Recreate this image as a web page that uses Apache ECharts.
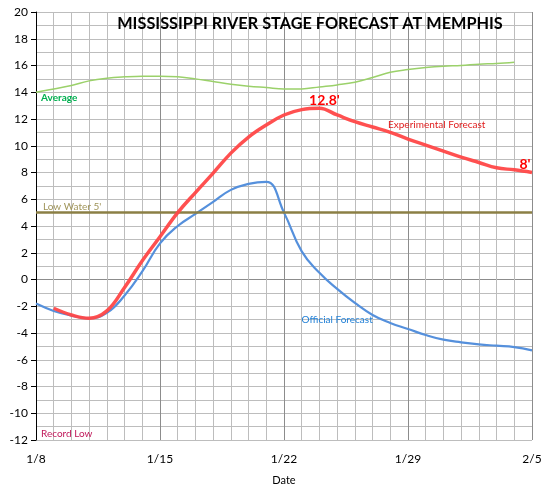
<!DOCTYPE html>
<html><head><meta charset="utf-8">
<script src="https://cdn.jsdelivr.net/npm/echarts@6/dist/echarts.min.js"></script>
<style>html,body{margin:0;padding:0;background:#fff}#c{width:545px;height:492px}</style>
</head><body><div id="c"></div>
<script>
var dates = ['1/8','1/9','1/10','1/11','1/12','1/13','1/14','1/15','1/16','1/17','1/18','1/19','1/20','1/21','1/22','1/23','1/24','1/25','1/26','1/27','1/28','1/29','1/30','1/31','2/1','2/2','2/3','2/4','2/5'];
var average = [14.0,14.25,14.5,14.85,15.05,15.15,15.2,15.2,15.15,15.0,14.8,14.6,14.45,14.35,14.25,14.25,14.4,14.55,14.75,15.1,15.5,15.7,15.85,15.95,16.0,16.1,16.15,16.25,null];
var experimental = [null,-2.15,-2.65,-2.9,-2.35,-0.6,1.4,3.2,5.0,6.5,7.95,9.45,10.65,11.55,12.3,12.7,12.8,12.3,11.8,11.4,11.0,10.5,10.05,9.6,9.15,8.75,8.35,8.2,8.0];
var official = [-1.8,-2.35,-2.7,-2.9,-2.5,-1.2,0.6,2.7,4.0,4.9,5.8,6.7,7.15,7.3,5.0,2.1,0.5,-0.7,-1.75,-2.65,-3.25,-3.7,-4.15,-4.5,-4.7,-4.85,-4.95,-5.05,-5.3];
var yTicks = {min:-12, max:20, step:2};
var lowWater = 5;
var peakLabel = "12.8'", endLabel = "8'";

var FONT = 'Lato, "Liberation Sans", sans-serif';
var vColors = dates.map(function(d,i){return i%7===0 ? '#8c8c8c' : '#bdbdbd';});
var hColors = [];
for (var v = yTicks.min; v <= yTicks.max; v += yTicks.step) hColors.push(v===0 ? '#8c8c8c' : '#bdbdbd');
var last = dates.length-1;

var chart = echarts.init(document.getElementById('c'), null, {renderer:'canvas'});
chart.setOption({
  animation:false,
  backgroundColor:'#fff',
  title:{text:'MISSISSIPPI RIVER STAGE FORECAST AT MEMPHIS', left:305, top:11, textAlign:'center',
    textStyle:{fontFamily:FONT, fontWeight:'bold', fontSize:16.3, color:'#000'}},
  grid:{left:36, right:13, top:12, bottom:52, containLabel:false, outerBoundsMode:'none'},
  xAxis:{type:'category', data:dates, boundaryGap:false,
    name:'Date', nameLocation:'middle', nameGap:35,
    nameTextStyle:{fontFamily:FONT, fontSize:11, color:'#000'},
    axisLine:{show:false}, axisTick:{show:false},
    axisLabel:{interval:6, margin:13, fontFamily:FONT, fontSize:12, color:'#000'},
    splitLine:{show:true, interval:0, lineStyle:{color:vColors, width:1}}
  },
  yAxis:{type:'value', min:yTicks.min, max:yTicks.max, interval:yTicks.step,
    name:'Stage (feet)', nameLocation:'middle', nameGap:27, nameRotate:90,
    nameTextStyle:{fontFamily:FONT, fontSize:11, color:'#000'},
    axisLine:{show:true, lineStyle:{color:'#000', width:1}},
    axisTick:{show:true, inside:false, length:5, lineStyle:{color:'#000'}},
    axisLabel:{margin:8, fontFamily:FONT, fontSize:12, color:'#000'},
    splitLine:{show:true, lineStyle:{color:hColors, width:1}},
    minorTick:{show:false, splitNumber:2},
    minorSplitLine:{show:true, lineStyle:{color:'#bdbdbd', width:1}}
  },
  series:[
    {name:'Average', type:'line', data:average, smooth:0.4, symbol:'none',
      lineStyle:{color:'#9bd16a', width:1.5}, z:3,
      markPoint:{symbol:'rect', symbolSize:0, silent:true, data:[
        {coord:['1/8',13.55], label:{show:true, formatter:'Average', position:'right', distance:5, color:'#00b050', fontFamily:FONT, fontSize:10, fontWeight:'bold'}},
        {coord:['1/8',-11.5], label:{show:true, formatter:'Record Low', position:'right', distance:5, color:'#c0185a', fontFamily:FONT, fontSize:10}},
        {coord:['1/8',lowWater+0.4], label:{show:true, formatter:"Low Water 5'", position:'right', distance:7, color:'#a0955a', fontFamily:FONT, fontSize:10}}
      ]}
    },
    {name:'Low Water', type:'line', data:[], symbol:'none',
      markLine:{silent:true, symbol:'none', data:[{yAxis:lowWater}],
        lineStyle:{color:'#8b7f45', width:2.5, type:'solid'},
        label:{show:false}}
    },
    {name:'Official Forecast', type:'line', data:official, smooth:0.45, symbol:'none',
      lineStyle:{color:'#5590dc', width:2.2}, z:4,
      markPoint:{symbol:'rect', symbolSize:0, silent:true, data:[
        {coord:['1/25',-3.03], label:{show:true, formatter:'Official Forecast', position:'inside', color:'#1f7fd6', fontFamily:FONT, fontSize:10}}
      ]}
    },
    {name:'Experimental Forecast', type:'line', data:experimental, smooth:0.4, symbol:'none',
      lineStyle:{color:'#ff4747', width:3.5, opacity:0.95}, z:5,
      markPoint:{symbol:'rect', symbolSize:0, silent:true, data:[
        {coord:['1/30',11.55], label:{show:true, formatter:'Experimental Forecast', position:'inside', offset:[11,0], color:'#e02020', fontFamily:FONT, fontSize:10}},
        {coord:[dates[16], experimental[16]], label:{show:true, formatter:peakLabel, position:'top', distance:1, offset:[5,0], color:'#ff0000', fontFamily:FONT, fontWeight:'bold', fontSize:14}},
        {coord:[dates[last], experimental[last]], label:{show:true, formatter:endLabel, position:'top', distance:1, offset:[-7,0], color:'#ff0000', fontFamily:FONT, fontWeight:'bold', fontSize:14}}
      ]}
    }
  ]
});
</script>
</body></html>
